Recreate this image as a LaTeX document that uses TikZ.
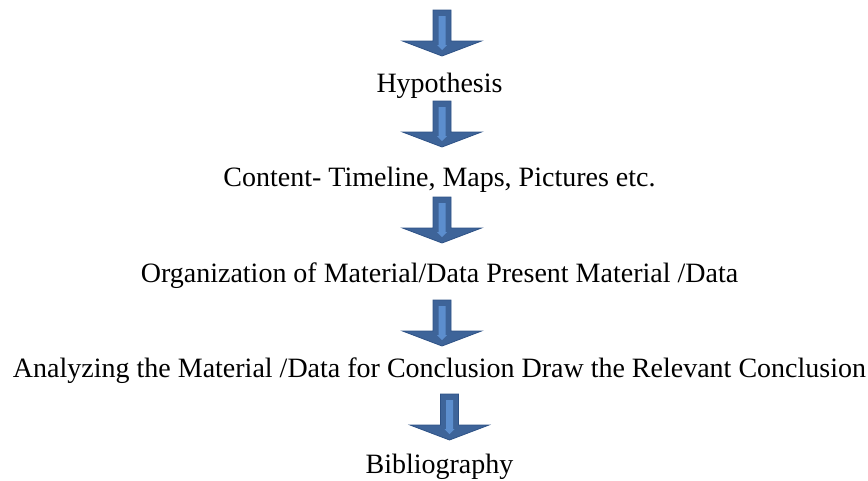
\documentclass[tikz,border=0pt]{standalone}
\usepackage{fontspec}
\setmainfont{Liberation Serif}
\usepackage{tikz}

\definecolor{arrowblue}{RGB}{62,100,153}
\definecolor{arrowedge}{RGB}{46,82,134}
\definecolor{arrowlight}{RGB}{92,142,206}

\tikzset{
  step text/.style={anchor=base, inner sep=0pt, font=\fontsize{28}{32}\selectfont},
  block arrow/.style={fill=arrowblue, draw=arrowedge, line width=0.8pt, line join=miter},
  block stripe/.style={fill=arrowlight, draw=none}
}

\begin{document}
\begin{tikzpicture}[x=1pt, y=-1pt]

\useasboundingbox (0, 0) rectangle (868, 480);

\node[step text] (hyp) at (439.5, 92) {Hypothesis};
\node[step text] (cont) at (439.5, 186) {Content- Timeline, Maps, Pictures etc.};
\node[step text] (org) at (439.5, 282) {Organization of Material/Data Present Material /Data};
\node[step text] (anal) at (439.5, 377) {Analyzing the Material /Data for Conclusion Draw the Relevant Conclusion};
\node[step text] (bib) at (439.5, 473) {Bibliography};

% block arrows between the steps
\foreach \ax/\ay in {442/10, 442/101, 442/197, 442/300, 449.5/394} {
  \begin{scope}[shift={(\ax, \ay)}]
    \draw[block arrow] (-9, 0) -- (9, 0) -- (9, 31) -- (39.5, 31) -- (0, 46) -- (-39.5, 31) -- (-9, 31) -- cycle;
    \fill[block stripe] (-3.5, 6) -- (3.5, 6) -- (3.5, 35) -- (5, 35) -- (0, 40) -- (-5, 35) -- (-3.5, 35) -- cycle;
  \end{scope}
}

\end{tikzpicture}
\end{document}
